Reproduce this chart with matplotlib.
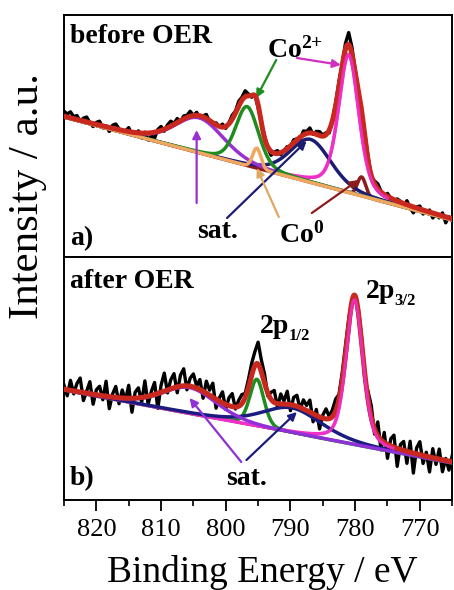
import numpy as np
import matplotlib
matplotlib.use("Agg")
import matplotlib.pyplot as plt
from matplotlib.ticker import MultipleLocator

plt.rcParams['font.family'] = 'Liberation Serif'
plt.rcParams['mathtext.fontset'] = 'custom'
plt.rcParams['mathtext.rm'] = 'Liberation Serif:bold'
plt.rcParams['mathtext.it'] = 'Liberation Serif:bold'
plt.rcParams['mathtext.bf'] = 'Liberation Serif:bold'

# Co 2p region, binding energy (eV) vs intensity (a.u.)
e_start = 825.0
e_step = 0.5

# before OER: linear background (825 eV, 765 eV) and peaks (centre, height, fwhm, lorentz fraction)
bg_before = (140.0, 37.0)
sat1_before = (804.1, 35, 9.0, 0.3)
co2_half_before = (796.7, 59, 4.2, 0.3)
co0_half_before = (795.2, 20, 1.5, 0.0)
sat2_before = (786.9, 43, 7.5, 0.3)
co2_main_before = (781.0, 138, 3.7, 0.4)
co0_main_before = (779.0, 19, 1.5, 0.0)

# measured minus fit, 0.5 eV steps from 825 eV
resid_before = [5, 3, 6, 2, 4, -1, 3, 5, 0, -3, 2, 4, -2, 1, -4, 3, 5, 1, -2, 0, 4, -3, -1, 2, -5, 1,
                -7, -3, -6, 2, 4, -2, 3, 5, 1, 4, -1, 3, 2, 5, 0,
                3, -2, 1, 4, -1, -3, 2, 0, 3, -2, 1, 4, 2, 5, 3,
                6, 2, -2, 1, -3, 0, 2, -1, -4, 1, 3, -2, 0, 2, -1,
                3, 1, -2, 4, 2, 5, -1, 3, 4, 1, 2, -3, 1, 3, 5, 2, 6, 12, 7, 2,
                0, -3, 2, 4, -1, 3, 5, 1, -2, 3, 0, -4, 2, 1, -3, 4, -2, -6, 1, 3,
                -4, -1, 2, -5, 0, -3, 3, -6, 1, -2]

# after OER
bg_after = (110.0, 37.0)
sat1_after = (805.6, 26, 10.0, 0.3)
p12_after = (795.2, 47, 2.6, 0.3)
sat2_after = (789.8, 25, 11.0, 0.4)
p32_after = (780.1, 145, 3.1, 0.4)

resid_after = [4, -6, 10, -3, 8, 14, -8, 2, 12, -10, 5, 9, -4, 15, -12, 3, 11, -6, 8, -2, 13,
               -14, 6, 10, -5, 16, -8, 4, 12, -15, 7, 18, -3, 9, 14, -6, 11, 17, -4, 8, 13,
               2, 10, -7, 12, 5, 14, -9, 3, 11, -5, 8, 13, -2, 6, 9, 4,
               8, 12, 14, 22, 12, 9, -3,
               7, 12, -4, 10, 3, 13, -6, 8, 11, -2, 9, 5, 12, -8, 6, -12, 3,
               10, 2, 7, 12, 5, 8, 9, 6, 2, -4, 3, 5, -6, 8, 12,
               -5, 14, -10, 10, -14, 7, 12, -18, 5, 9, -12, 11, -20, 6, 13, -8, 4, -15, 9, -6,
               10, -12, 2, -9, 6]


def pvoigt(e, centre, height, fwhm, eta):
    x = (e - centre) / (fwhm / 2.0)
    return height * ((1 - eta) * np.exp(-np.log(2) * x ** 2) + eta / (1 + x ** 2))


def background(e, ends):
    return ends[0] + (ends[1] - ends[0]) * (825.0 - e) / 60.0


e_fit = np.linspace(825, 765, 1201)

fig = plt.figure(figsize=(4.54, 5.90), dpi=100)
ax1 = fig.add_axes([0.141, 0.5644, 0.855, 0.4102])
ax2 = fig.add_axes([0.141, 0.1525, 0.855, 0.4119], sharex=ax1)

RED = '#c8281e'
MAGENTA = '#f030c8'


def draw_panel(ax, bg_ends, peaks, resid, colours, order, main):
    e_raw = e_start - e_step * np.arange(len(resid))
    bg_fit = background(e_fit, bg_ends)
    fit = bg_fit.copy()
    for p in peaks:
        fit += pvoigt(e_fit, *p)
    raw = background(e_raw, bg_ends) + sum(pvoigt(e_raw, *p) for p in peaks) + np.array(resid)
    ax.plot(e_raw, raw, color='black', lw=2.4, zorder=1)
    ax.plot(e_fit, bg_fit, color='black', lw=1.4, zorder=2)
    for i in order:
        ax.plot(e_fit, bg_fit + pvoigt(e_fit, *peaks[i]), color=colours[i], lw=2.5, zorder=3)
    ax.plot(e_fit, fit, color=RED, lw=3.6, zorder=4)
    # main 2p3/2 line again over the envelope, only around its peak
    near = np.abs(e_fit - main[0]) < 6
    ax.plot(e_fit[near], (bg_fit + pvoigt(e_fit, *main))[near], color=MAGENTA,
            lw=2.2, zorder=5, alpha=0.85)


peaks_before = [sat1_before, co2_half_before, co0_half_before, sat2_before, co2_main_before, co0_main_before]
cols_before = ['#9b30d0', '#1e8c1e', '#f0a860', '#1c1c70', MAGENTA, '#8c1c1c']
draw_panel(ax1, bg_before, peaks_before, resid_before, cols_before, [4, 5, 3, 0, 1, 2], co2_main_before)

peaks_after = [sat1_after, p12_after, sat2_after, p32_after]
cols_after = ['#9030d8', '#1e8c1e', '#1c1c80', MAGENTA]
draw_panel(ax2, bg_after, peaks_after, resid_after, cols_after, [1, 3, 2, 0], p32_after)

ax1.set_xlim(825, 765)
ax1.set_ylim(0, 242)
ax2.set_ylim(0, 243)

for ax in (ax1, ax2):
    ax.set_yticks([])
    for s in ax.spines.values():
        s.set_linewidth(1.4)
ax1.tick_params(axis='x', which='both', bottom=False, labelbottom=False)
ax2.xaxis.set_major_locator(MultipleLocator(10))
ax2.xaxis.set_minor_locator(MultipleLocator(5))
ax2.tick_params(axis='x', which='major', direction='out', length=8, width=1.3, labelsize=19, pad=6)
ax2.tick_params(axis='x', which='minor', direction='out', length=4, width=1.2)

bold = dict(fontsize=20, fontweight='bold')
arrow = lambda c: dict(arrowstyle='-|>', color=c, lw=1.6, mutation_scale=12, shrinkA=0, shrinkB=0)

# panel a labels
ax1.text(0.015, 0.884, 'before OER', transform=ax1.transAxes, va='baseline', **bold)
ax1.text(0.015, 0.05, 'a)', transform=ax1.transAxes, va='baseline', **bold)
ax1.text(793.6, 199, r'Co$^{2{+}}$', va='baseline', **bold)
ax1.annotate('', xy=(795.3, 159), xytext=(792.2, 197), arrowprops=arrow('#1e8c1e'))
ax1.annotate('', xy=(782.2, 192), xytext=(789.0, 199), arrowprops=arrow('#d030c0'))
ax1.text(804.5, 19, 'sat.', va='baseline', **bold)
ax1.annotate('', xy=(804.5, 127), xytext=(804.5, 54), arrowprops=arrow('#9b30d0'))
ax1.annotate('', xy=(787.5, 116), xytext=(799.8, 39), arrowprops=arrow('#1c1c70'))
ax1.text(791.8, 14, r'Co$^{0}$', va='baseline', **bold)
ax1.annotate('', xy=(795.2, 89), xytext=(791.8, 40), arrowprops=arrow('#e0a860'))
ax1.annotate('', xy=(779.5, 77), xytext=(786.7, 44), arrowprops=arrow('#8c1c1c'))

# panel b labels
ax2.text(0.015, 0.872, 'after OER', transform=ax2.transAxes, va='baseline', **bold)
ax2.text(0.015, 0.062, 'b)', transform=ax2.transAxes, va='baseline', **bold)
ax2.text(799.9, 15, 'sat.', va='baseline', **bold)
ax2.annotate('', xy=(805.6, 102), xytext=(797.6, 38), arrowprops=arrow('#9030d8'))
ax2.annotate('', xy=(789.0, 88), xytext=(796.8, 40), arrowprops=arrow('#1c1c80'))
for e, y, sub in [(794.8, 167, '1/2'), (778.4, 202, '3/2')]:
    ax2.text(e, y, '2p', va='baseline', **bold)
    ax2.annotate(sub, xy=(e, y), xytext=(21, -5), textcoords='offset points',
                 va='baseline', fontsize=12, fontweight='bold')

fig.text(0.062, 0.668, 'Intensity / a.u.', rotation=90, ha='center', va='center', fontsize=31)
fig.text(0.578, 0.0136, 'Binding Energy / eV', ha='center', va='baseline', fontsize=27)

fig.savefig('out.png', dpi=100)
